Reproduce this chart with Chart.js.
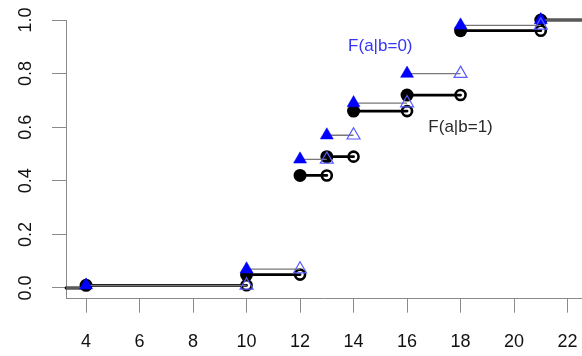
<!DOCTYPE html>
<html>
<head>
<meta charset="utf-8">
<script src="https://cdn.jsdelivr.net/npm/chart.js@4.4.1/dist/chart.umd.min.js"></script>
<style>
  html, body { margin: 0; padding: 0; background: #fff; }
</style>
</head>
<body>
<canvas id="myChart" width="582" height="356"></canvas>
<script>
// step functions: jump points and the level reached at each jump
const jumpsB0 = [4, 10, 12, 13, 14, 16, 18, 21];
const levelsB0 = [0.01, 0.07, 0.48, 0.57, 0.69, 0.80, 0.98, 1.0];
const jumpsB1 = [4, 10, 12, 13, 14, 16, 18, 21];
const levelsB1 = [0.01, 0.05, 0.42, 0.49, 0.66, 0.72, 0.96, 1.0];

const xTicks = [4, 6, 8, 10, 12, 14, 16, 18, 20, 22];
const yTicks = [0, 0.2, 0.4, 0.6, 0.8, 1.0];

// text labels placed in data coordinates
const labelText = ['F(a|b=0)', 'F(a|b=1)'];
const labelX = [15, 18];
const labelY = [0.9, 0.6];

const xMin = 3.25, xMax = 22.54, yMin = -0.04, yMax = 1.0;

const FONT = "'Liberation Sans', Arial, sans-serif";
const AXIS_GREY = '#8a8a8a';

function stepSegments(jumps, levels) {
    let pts = [{x: xMin, y: 0}, {x: jumps[0], y: 0}, {x: jumps[0], y: null}];
    for (let i = 0; i < jumps.length; i++) {
        let end = i < jumps.length - 1 ? jumps[i + 1] : xMax;
        pts.push({x: jumps[i], y: levels[i]});
        pts.push({x: end, y: levels[i]});
        pts.push({x: end, y: null});
    }
    return pts;
}

function jumpPoints(jumps, levels) {
    return jumps.map((x, i) => ({x: x, y: levels[i]}));
}

function endPoints(jumps, levels) {
    return jumps.slice(1).map((x, i) => ({x: x, y: levels[i]}));
}

const textLabels = {
    id: 'textLabels',
    afterDatasetsDraw(chart) {
        const ctx = chart.ctx;
        const xs = chart.scales.x, ys = chart.scales.y;
        const colors = ['#3535f5', '#2a2a2a'];
        ctx.save();
        ctx.font = '17px ' + FONT;
        ctx.textAlign = 'center';
        ctx.textBaseline = 'middle';
        for (let i = 0; i < labelText.length; i++) {
            ctx.fillStyle = colors[i];
            ctx.fillText(labelText[i], xs.getPixelForValue(labelX[i]), ys.getPixelForValue(labelY[i]));
        }
        ctx.restore();
    }
};

let ctx1 = document.getElementById('myChart').getContext('2d');

let myChart = new Chart(ctx1, {
    type: 'line',
    data: {
        datasets: [
            {   // b=0 open triangles (right ends)
                data: endPoints(jumpsB0, levelsB0),
                showLine: false,
                pointStyle: 'triangle',
                pointRadius: 7.5,
                pointBackgroundColor: 'rgba(0,0,0,0)',
                pointBorderColor: '#5a5aff',
                pointBorderWidth: 1.2,
                order: 1, clip: false
            },
            {   // b=0 filled triangles
                data: jumpPoints(jumpsB0, levelsB0),
                showLine: false,
                pointStyle: 'triangle',
                pointRadius: 7.5,
                pointBackgroundColor: '#0000ff',
                pointBorderColor: '#0000ff',
                pointBorderWidth: 0.5,
                order: 2, clip: false
            },
            {   // b=0 step line
                data: stepSegments(jumpsB0, levelsB0),
                borderColor: '#777777',
                borderWidth: 1.3,
                pointRadius: 0,
                spanGaps: false,
                order: 3, clip: false
            },
            {   // b=1 open circles
                data: endPoints(jumpsB1, levelsB1),
                showLine: false,
                pointStyle: 'circle',
                pointRadius: 5,
                pointBackgroundColor: 'rgba(0,0,0,0)',
                pointBorderColor: '#000',
                pointBorderWidth: 2.6,
                order: 4, clip: false
            },
            {   // b=1 filled circles
                data: jumpPoints(jumpsB1, levelsB1),
                showLine: false,
                pointStyle: 'circle',
                pointRadius: 6.5,
                pointBackgroundColor: '#000',
                pointBorderColor: '#000',
                pointBorderWidth: 0,
                order: 5, clip: false
            },
            {   // b=1 step line
                data: stepSegments(jumpsB1, levelsB1),
                borderColor: '#000',
                borderWidth: 2.8,
                borderCapStyle: 'round',
                pointRadius: 0,
                spanGaps: false,
                order: 6, clip: false
            }
        ]
    },
    options: {
        responsive: false,
        animation: false,
        devicePixelRatio: 1,
        layout: { autoPadding: false, padding: { top: 20, left: 0, right: 0, bottom: 0 } },
        plugins: { legend: { display: false }, tooltip: { enabled: false } },
        elements: { line: { tension: 0 } },
        scales: {
            x: {
                type: 'linear',
                min: xMin,
                max: xMax,
                afterBuildTicks: (scale) => { scale.ticks = xTicks.map(v => ({value: v})); },
                afterFit: (scale) => {
                    scale.height = 57.3;
                    scale.paddingLeft = 0;
                    scale.paddingRight = 0;
                },
                grid: { drawOnChartArea: false, drawTicks: true, tickLength: 14, color: AXIS_GREY, lineWidth: 1 },
                border: { display: true, color: AXIS_GREY, width: 1 },
                ticks: {
                    autoSkip: false,
                    maxRotation: 0,
                    padding: 19,
                    color: '#111',
                    font: { size: 18, family: FONT },
                    callback: (v) => String(v)
                }
            },
            y: {
                type: 'linear',
                min: yMin,
                max: yMax,
                afterBuildTicks: (scale) => { scale.ticks = yTicks.map(v => ({value: v})); },
                afterFit: (scale) => {
                    scale.width = 66;
                    scale.paddingTop = 0;
                    scale.paddingBottom = 0;
                },
                grid: { drawOnChartArea: false, drawTicks: true, tickLength: 14, color: AXIS_GREY, lineWidth: 1 },
                border: { display: true, color: AXIS_GREY, width: 1 },
                ticks: {
                    autoSkip: false,
                    minRotation: 90,
                    maxRotation: 90,
                    crossAlign: 'center',
                    padding: 13,
                    color: '#111',
                    font: { size: 18, family: FONT },
                    callback: (v) => v.toFixed(1)
                }
            }
        }
    },
    plugins: [textLabels]
});
</script>
</body>
</html>
